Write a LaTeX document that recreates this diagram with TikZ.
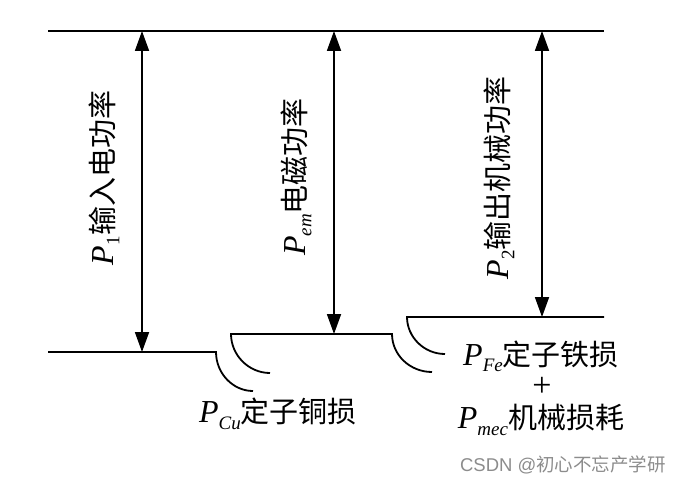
\documentclass[tikz,border=0pt]{standalone}
\usepackage{fontspec}
\setmainfont{Liberation Serif}
\newfontfamily\cjk{Noto Sans CJK SC}
\newfontfamily\wmfont{Liberation Sans}
\usetikzlibrary{arrows.meta}
\newcommand\psubx[1]{{\fontsize{32}{32}\selectfont\itshape P}\raisebox{-0.22em}{\fontsize{19}{19}\selectfont #1}}
\begin{document}
\begin{tikzpicture}[x=1pt,y=-1pt,
  ln/.style={line width=1.8pt},
  dbl/.style={line width=1.8pt,{Triangle[length=20pt,width=14pt]}-{Triangle[length=20pt,width=14pt]}},
  lab/.style={inner sep=0pt,font=\fontsize{29}{31}\selectfont},
  wm/.style={inner sep=0pt,text=black!45,font=\fontsize{18.5}{20}\selectfont}]
\useasboundingbox (0,0) rectangle (684,484);
% lines
\coordinate (tl) at (48,31); \coordinate (tr) at (604,31);
\coordinate (al) at (48,352); \coordinate (ar) at (216,352);
\coordinate (ae) at (253,391);
\coordinate (bl) at (231,334); \coordinate (br) at (392,334);
\coordinate (bls) at (270,373); \coordinate (bre) at (432,372);
\coordinate (cl) at (407,317); \coordinate (cr) at (604,317);
\coordinate (ce) at (445,354);
\draw[ln] (tl) -- (tr);
\draw[ln] (al) -- (ar) .. controls (216,373.5) and (233,391) .. (ae);
\draw[ln] (bls) .. controls (248.5,373) and (231,355) .. (bl) -- (br) .. controls (392,355) and (410,372) .. (bre);
\draw[ln] (ce) .. controls (424,354) and (407,337) .. (cl) -- (cr);
% arrows
\coordinate (t1) at (142,31); \coordinate (b1) at (142,352);
\coordinate (t2) at (334,31); \coordinate (b2) at (334,334);
\coordinate (t3) at (542,31); \coordinate (b3) at (542,317);
\draw[dbl] (t1) -- (b1);
\draw[dbl] (t2) -- (b2);
\draw[dbl] (t3) -- (b3);
% labels
\node[lab,rotate=90] (l1) at (104,178) {\psubx{1}{\cjk 输入电功率}};
\node[lab,rotate=90] (l2) at (296,177) {\psubx{\itshape em}{\cjk 电磁功率}};
\node[lab,rotate=90] (l3) at (499,178) {\psubx{2}{\cjk 输出机械功率}};
\node[lab] (cu) at (278,414) {\psubx{\itshape Cu}{\cjk 定子铜损}};
\node[lab] (fe) at (541,356) {\psubx{\itshape Fe}{\cjk 定子铁损}};
\node[lab,font=\fontsize{34}{34}\selectfont,anchor=base] (plus) at (542,396) {\smash{+}};
\node[lab] (mec) at (541,420) {\psubx{\itshape mec}{\cjk 机械损耗}};
\node[wm] (w) at (563,465) {{\wmfont CSDN @}{\cjk 初心不忘产学研}};
\end{tikzpicture}
\end{document}
